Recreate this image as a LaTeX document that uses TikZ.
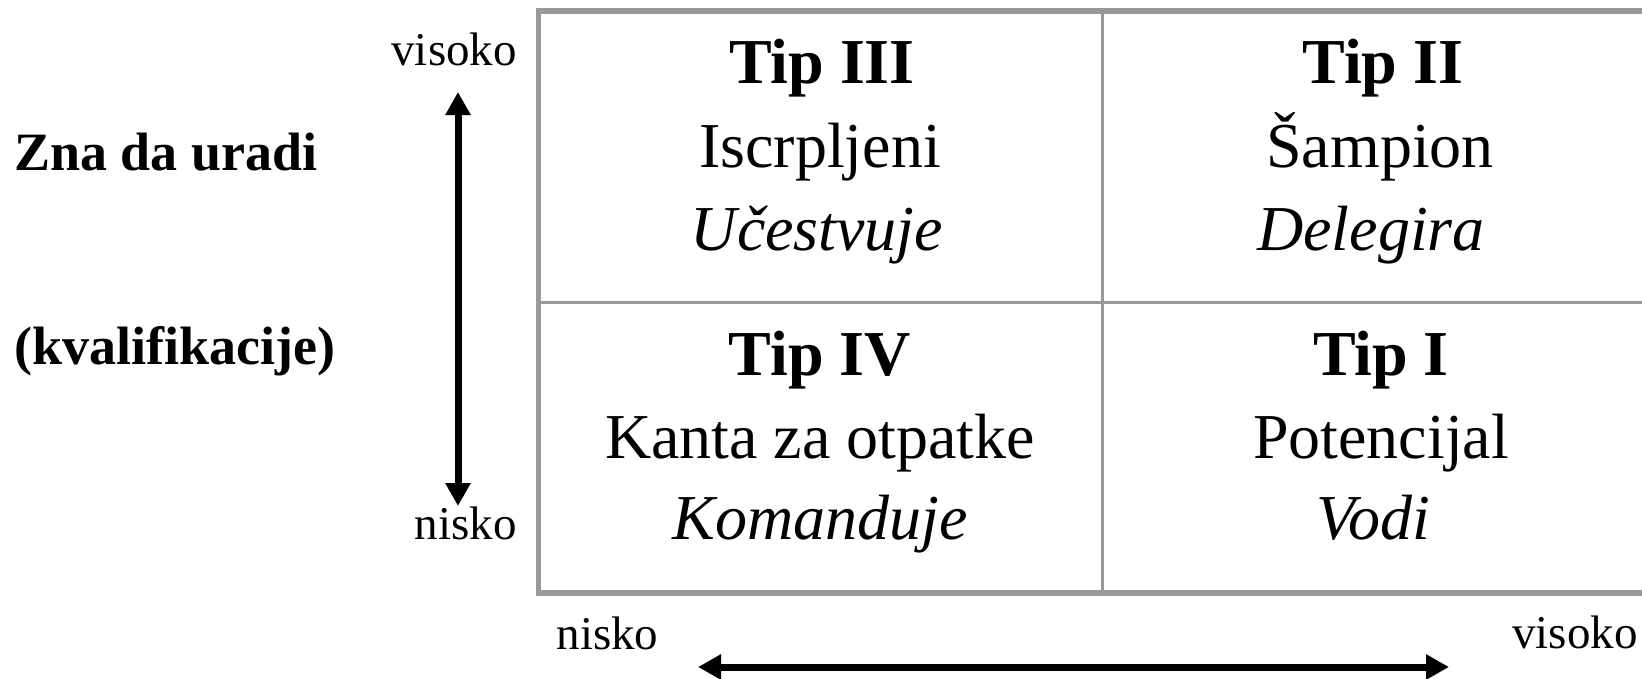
\documentclass[tikz,border=0pt]{standalone}
\usepackage{fontspec}
\setmainfont{Liberation Serif}[Ligatures=NoCommon]
\usetikzlibrary{arrows.meta}
\definecolor{gridgray}{RGB}{153,153,153}
\begin{document}
\begin{tikzpicture}[x=1pt,y=-1pt,
  cell/.style={anchor=base,inner sep=0pt,font=\fontsize{64}{76}\selectfont},
  celltitle/.style={cell,font=\fontsize{64}{76}\selectfont\bfseries},
  cellrole/.style={cell,font=\fontsize{64}{76}\selectfont\itshape},
  scale label/.style={inner sep=0pt,font=\fontsize{47}{56}\selectfont},
  axis title/.style={anchor=base west,inner sep=0pt,font=\fontsize{54}{64}\selectfont\bfseries},
  axis arrow/.style={line width=7pt,{Triangle[length=23pt,width=24pt]}-{Triangle[length=23pt,width=24pt]}},
  outer frame/.style={draw=gridgray,line width=5.5pt},
  inner line/.style={draw=gridgray,line width=3pt}]
\useasboundingbox (0,0) rectangle (1642,678);

% 2x2 grid (right edge runs past the page)
\coordinate (gtl) at (538.5,11);
\coordinate (gbr) at (1672,593);
\coordinate (vtop) at (1102,11);
\coordinate (vbot) at (1102,593);
\coordinate (hl) at (538.5,302.5);
\coordinate (hr) at (1672,302.5);
\draw[inner line] (vtop) -- (vbot);
\draw[inner line] (hl) -- (hr);
\draw[outer frame] (gtl) rectangle (gbr);

% quadrant texts
\node[celltitle] (t3) at (822,83) {Tip III};
\node[cell]      (n3) at (820,167) {Iscrpljeni};
\node[cellrole]  (r3) at (817,250) {Učestvuje};

\node[celltitle] (t2) at (1383,83) {Tip II};
\node[cell]      (n2) at (1380,167) {Šampion};
\node[cellrole]  (r2) at (1371,250) {Delegira};

\node[celltitle] (t4) at (820,375) {Tip IV};
\node[cell]      (n4) at (820,458) {Kanta za otpatke};
\node[cellrole]  (r4) at (820,539) {Komanduje};

\node[celltitle] (t1) at (1381,375) {Tip I};
\node[cell]      (n1) at (1381,458) {Potencijal};
\node[cellrole]  (r1) at (1373,539) {Vodi};

% vertical axis
\node[axis title] (ya) at (14,170) {Zna da uradi};
\node[axis title] (yb) at (14,364) {(kvalifikacije)};
\node[scale label,anchor=base east] (yhi) at (517,65) {visoko};
\node[scale label,anchor=base east] (ylo) at (517,539) {nisko};
\coordinate (ytop) at (458,92);
\coordinate (ybot) at (458,506);
\draw[axis arrow] (ytop) -- (ybot);

% horizontal axis
\node[scale label,anchor=base] (xlo) at (607.5,649) {nisko};
\node[scale label,anchor=base] (xhi) at (1575,648) {visoko};
\coordinate (xleft) at (698,667);
\coordinate (xright) at (1449,667);
\draw[axis arrow] (xleft) -- (xright);
\end{tikzpicture}
\end{document}
